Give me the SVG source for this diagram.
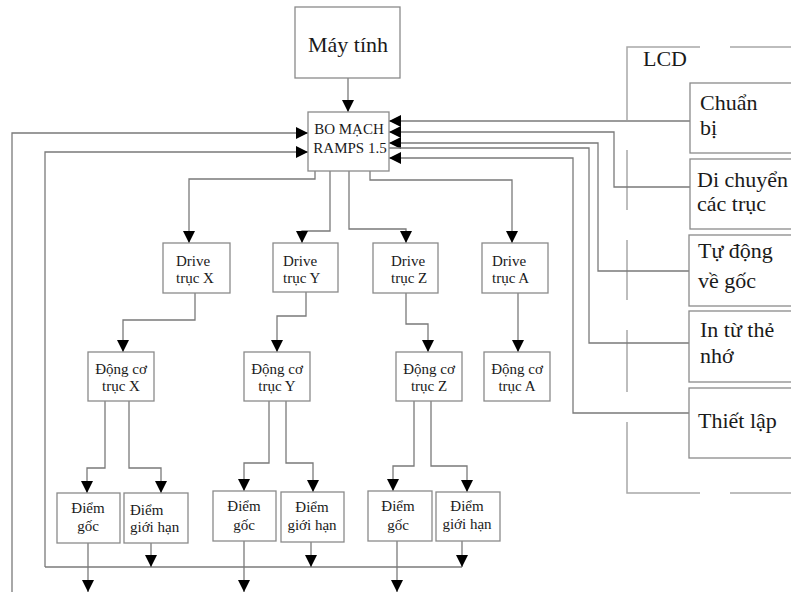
<svg xmlns="http://www.w3.org/2000/svg" width="791" height="592" viewBox="0 0 791 592">
<style>
.box{fill:#fff;stroke:#8a8a8a;stroke-width:1.3}
.ln{fill:none;stroke:#7a7a7a;stroke-width:1.3}
.lcd{fill:none;stroke:#a8a8a8;stroke-width:1.5}
text{font-family:'Liberation Serif','DejaVu Serif',serif;fill:#1a1a1a}
.s{font-size:15px}
.m{text-anchor:middle}
.b{font-size:22px}
</style>
<defs>
<marker id="ah" viewBox="0 0 12 12" refX="12" refY="6" markerWidth="12" markerHeight="12" orient="auto" markerUnits="userSpaceOnUse">
<path d="M0,0 L12,6 L0,12 z" fill="#000"/>
</marker>
</defs>
<rect width="791" height="592" fill="#fff"/>

<g id="lcd-frame">
<path class="lcd" d="M627,120 V47 H700 M730,47 H795"/>
<path class="lcd" d="M627,150 V210 M627,240 V300 M627,330 V392 M627,422 V493 H700 M730,493 H795"/>
<text class="b" x="643" y="66">LCD</text>
</g>

<g id="connectors">
<path class="ln" d="M348,78 V112" marker-end="url(#ah)"/>
<path class="ln" d="M12,592 V133 H308" marker-end="url(#ah)"/>
<path class="ln" d="M45,567 V152 H308" marker-end="url(#ah)"/>
<path class="ln" d="M45,567 H462"/>
<path class="ln" d="M690,121 H389" marker-end="url(#ah)"/>
<path class="ln" d="M690,187 H614 V132 H389" marker-end="url(#ah)"/>
<path class="ln" d="M689,271 H598 V143 H389" marker-end="url(#ah)"/>
<path class="ln" d="M689,343 H589 V148 H389"/>
<path class="ln" d="M689,413 H573 V158 H389" marker-end="url(#ah)"/>
<path class="ln" d="M315,171 V179 H189 V243" marker-end="url(#ah)"/>
<path class="ln" d="M330,171 V231 H302 V243" marker-end="url(#ah)"/>
<path class="ln" d="M349,171 V229 H406 V243" marker-end="url(#ah)"/>
<path class="ln" d="M370,171 V180 H512 V243" marker-end="url(#ah)"/>
<path class="ln" d="M195,293 V320 H123 V352" marker-end="url(#ah)"/>
<path class="ln" d="M306,292 V316 H277 V352" marker-end="url(#ah)"/>
<path class="ln" d="M406,293 V324 H428 V352" marker-end="url(#ah)"/>
<path class="ln" d="M518,293 V352" marker-end="url(#ah)"/>
<path class="ln" d="M105,401 V468 H87 V493" marker-end="url(#ah)"/>
<path class="ln" d="M129,401 V468 H161 V493" marker-end="url(#ah)"/>
<path class="ln" d="M269,401 V463 H244 V491" marker-end="url(#ah)"/>
<path class="ln" d="M286,401 V463 H313 V492" marker-end="url(#ah)"/>
<path class="ln" d="M414,401 V466 H393 V491" marker-end="url(#ah)"/>
<path class="ln" d="M431,401 V466 H467 V492" marker-end="url(#ah)"/>
<path class="ln" d="M88,543 V592" marker-end="url(#ah)"/>
<path class="ln" d="M244,541 V592" marker-end="url(#ah)"/>
<path class="ln" d="M397,541 V592" marker-end="url(#ah)"/>
<path class="ln" d="M151,543 V567" marker-end="url(#ah)"/>
<path class="ln" d="M311,542 V567" marker-end="url(#ah)"/>
<path class="ln" d="M462,541 V567" marker-end="url(#ah)"/>
</g>

<g id="may-tinh">
<rect class="box" x="295" y="7" width="105" height="71"/>
<text class="m" x="348" y="52" font-size="22">Máy tính</text>
</g>
<g id="ramps">
<rect class="box" x="308" y="112" width="81" height="59"/>
<text class="s m" x="349" y="134">BO MẠCH</text>
<text class="s m" x="350" y="153">RAMPS 1.5</text>
</g>

<g id="drive-x">
<rect class="box" x="163" y="243" width="67" height="50"/>
<text class="s" x="176" y="266">Drive</text>
<text class="s" x="176" y="283">trục X</text>
</g>
<g id="drive-y">
<rect class="box" x="273" y="243" width="65" height="49"/>
<text class="s" x="283" y="266">Drive</text>
<text class="s" x="283" y="283">trục Y</text>
</g>
<g id="drive-z">
<rect class="box" x="373" y="243" width="65" height="50"/>
<text class="s" x="391" y="266">Drive</text>
<text class="s" x="391" y="283">trục Z</text>
</g>
<g id="drive-a">
<rect class="box" x="482" y="243" width="66" height="50"/>
<text class="s" x="492" y="266">Drive</text>
<text class="s" x="492" y="283">trục A</text>
</g>

<g id="dongco-x">
<rect class="box" x="88" y="352" width="66" height="49"/>
<text class="s m" x="121" y="374">Động cơ</text>
<text class="s m" x="121" y="391">trục X</text>
</g>
<g id="dongco-y">
<rect class="box" x="244" y="352" width="66" height="49"/>
<text class="s m" x="277" y="374">Động cơ</text>
<text class="s m" x="277" y="391">trục Y</text>
</g>
<g id="dongco-z">
<rect class="box" x="396" y="352" width="66" height="49"/>
<text class="s m" x="429" y="374">Động cơ</text>
<text class="s m" x="429" y="391">trục Z</text>
</g>
<g id="dongco-a">
<rect class="box" x="484" y="352" width="66" height="49"/>
<text class="s m" x="517" y="374">Động cơ</text>
<text class="s m" x="517" y="391">trục A</text>
</g>

<g id="goc-x">
<rect class="box" x="57" y="493" width="63" height="50"/>
<text class="s m" x="88" y="513">Điểm</text>
<text class="s m" x="88" y="531">gốc</text>
</g>
<g id="gioihan-x">
<rect class="box" x="124" y="493" width="64" height="50"/>
<text class="s" x="130" y="515">Điểm</text>
<text class="s" x="130" y="532">giới hạn</text>
</g>
<g id="goc-y">
<rect class="box" x="213" y="491" width="63" height="50"/>
<text class="s m" x="244" y="511">Điểm</text>
<text class="s m" x="244" y="530">gốc</text>
</g>
<g id="gioihan-y">
<rect class="box" x="281" y="492" width="63" height="50"/>
<text class="s m" x="312" y="512">Điểm</text>
<text class="s m" x="312" y="530">giới hạn</text>
</g>
<g id="goc-z">
<rect class="box" x="368" y="491" width="64" height="50"/>
<text class="s m" x="398" y="511">Điểm</text>
<text class="s m" x="398" y="530">gốc</text>
</g>
<g id="gioihan-z">
<rect class="box" x="436" y="492" width="64" height="49"/>
<text class="s m" x="467" y="511">Điểm</text>
<text class="s m" x="467" y="529">giới hạn</text>
</g>

<g id="chuan-bi">
<rect class="box" x="690" y="83" width="110" height="70"/>
<text class="b" x="700" y="110">Chuẩn</text>
<text class="b" x="700" y="135">bị</text>
</g>
<g id="di-chuyen">
<rect class="box" x="690" y="159" width="110" height="70"/>
<text class="b" x="697" y="187">Di chuyển</text>
<text class="b" x="697" y="211">các trục</text>
</g>
<g id="tu-dong">
<rect class="box" x="689" y="235" width="110" height="71"/>
<text class="b" x="698" y="258">Tự động</text>
<text class="b" x="698" y="288">về gốc</text>
</g>
<g id="in-the">
<rect class="box" x="689" y="311" width="110" height="71"/>
<text class="b" x="700" y="337">In từ thẻ</text>
<text class="b" x="700" y="363">nhớ</text>
</g>
<g id="thiet-lap">
<rect class="box" x="689" y="388" width="110" height="70"/>
<text class="b" x="698" y="428">Thiết lập</text>
</g>
</svg>
